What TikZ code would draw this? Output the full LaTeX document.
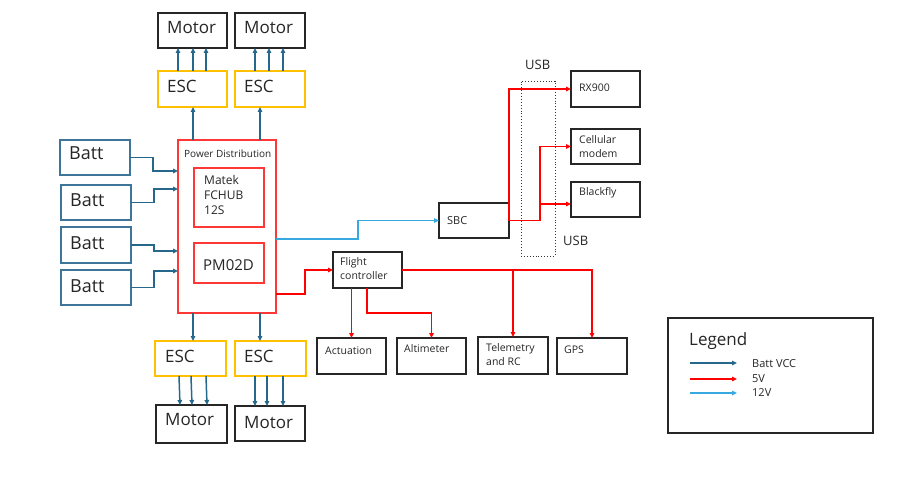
\documentclass[tikz,border=0pt]{standalone}
\usepackage{fontspec}
\setmainfont{Open Sans}
\usetikzlibrary{arrows.meta,calc}
\definecolor{bvcc}{RGB}{38,104,140}
\definecolor{battc}{RGB}{62,117,153}
\definecolor{redc}{RGB}{255,0,0}
\definecolor{redbox}{RGB}{255,55,55}
\definecolor{escc}{RGB}{255,192,0}
\definecolor{twelve}{RGB}{54,169,225}
\definecolor{txtc}{RGB}{38,38,38}
\newcommand\mybox[6]{\node[#1,anchor=north west,minimum width={#4-#2},minimum height={#5-#3}] (#6) at (#2,#3) {};}
\newcommand\fs[1]{\fontsize{#1}{#1}\selectfont}
\tikzset{
  blk/.style={draw=black!85,line width=1.5pt,inner sep=0pt,outer sep=0pt},
  battbox/.style={draw=battc,line width=1.4pt,inner sep=0pt,outer sep=0pt},
  escbox/.style={draw=escc,line width=1.4pt,inner sep=0pt,outer sep=0pt},
  redbx/.style={draw=redbox,line width=1.4pt,inner sep=0pt,outer sep=0pt},
  usbbox/.style={draw=black!80,dotted,line width=0.9pt,inner sep=0pt,outer sep=0pt},
  txt/.style={anchor=base west,inner sep=0pt,text=txtc},
  tip/.style={-{Triangle[length=5pt,width=4.5pt]}},
  bv/.style={tip,draw=bvcc,line width=1.5pt},
  rv/.style={tip,draw=redc,line width=1.5pt},
  tv/.style={tip,draw=twelve,line width=1.5pt},
}
\begin{document}
\begin{tikzpicture}[x=1pt,y=-1pt]
\useasboundingbox[fill=white] (0,0) rectangle (919,492);
% top motors / ESCs
\mybox{blk}{158}{13}{227}{48}{m1}
\mybox{blk}{235}{13}{305}{48}{m2}
\mybox{escbox}{158}{71}{227}{107}{e1}
\mybox{escbox}{235}{71}{305}{107}{e2}
\node[txt,font=\fs{17}] (tm1) at (167,34) {Motor};
\node[txt,font=\fs{17}] (tm2) at (244,34) {Motor};
\node[txt,font=\fs{17}] (te1) at (167,93) {ESC};
\node[txt,font=\fs{17}] (te2) at (244,93) {ESC};
% power distribution
\mybox{redbx}{178}{140}{276}{313}{pd}
\mybox{redbx}{194}{168}{264}{227}{mk}
\mybox{redbx}{194}{243}{264}{283}{pm}
\node[txt,font=\fs{10}] (tpd) at (184,158) {Power Distribution};
\node[txt,font=\fontsize{12}{15}\selectfont,align=left,anchor=north west] (tmk) at (204,175) {Matek\\FCHUB\\12S};
\node[txt,font=\fs{15}] (tpm) at (203,270) {PM02D};
% batteries
\mybox{battbox}{60}{140}{130}{175}{b1}
\mybox{battbox}{61}{185}{131}{220}{b2}
\mybox{battbox}{61}{227}{131}{263}{b3}
\mybox{battbox}{61}{270}{131}{305}{b4}
\node[txt,font=\fs{18}] (tb1) at (69,160) {Batt};
\node[txt,font=\fs{18}] (tb2) at (70,207) {Batt};
\node[txt,font=\fs{18}] (tb3) at (70,249) {Batt};
\node[txt,font=\fs{18}] (tb4) at (70,292) {Batt};
% bottom ESCs / motors
\mybox{escbox}{155}{341}{226}{376}{e3}
\mybox{escbox}{235}{341}{306}{376}{e4}
\mybox{blk}{156}{405}{227}{443}{m3}
\mybox{blk}{235}{406}{305}{441}{m4}
\node[txt,font=\fs{17}] (te3) at (165,362) {ESC};
\node[txt,font=\fs{17}] (te4) at (244,362) {ESC};
\node[txt,font=\fs{17}] (tm3) at (165,425) {Motor};
\node[txt,font=\fs{17}] (tm4) at (244,428) {Motor};
% flight controller and peripherals
\mybox{blk}{333}{252}{402}{288}{fc}
\node[txt,font=\fontsize{10.5}{14}\selectfont,align=left,anchor=north west] (tfc) at (340,257) {Flight\\controller};
\mybox{blk}{317}{338}{386}{374}{act}
\mybox{blk}{397}{338}{466}{374}{alt}
\mybox{blk}{478}{337}{548}{374}{tel}
\mybox{blk}{557}{338}{627}{374}{gps}
\node[txt,font=\fs{10.5}] (tact) at (325,354) {Actuation};
\node[txt,font=\fs{10.5}] (talt) at (404,352) {Altimeter};
\node[txt,font=\fontsize{10.5}{14}\selectfont,align=left,anchor=north west] (ttel) at (486,343) {Telemetry\\and RC};
\node[txt,font=\fs{10.5}] (tgps) at (564,353) {GPS};
% SBC and USB devices
\mybox{blk}{439}{203}{509}{238}{sbc}
\node[txt,font=\fs{11}] (tsbc) at (447,224) {SBC};
\mybox{blk}{571}{71}{640}{107}{rx}
\mybox{blk}{571}{129}{640}{164}{cell}
\mybox{blk}{571}{182}{640}{217}{bf}
\node[txt,font=\fs{10.5}] (trx) at (579,92) {RX900};
\node[txt,font=\fontsize{10.5}{14}\selectfont,align=left,anchor=north west] (tcell) at (579,135) {Cellular\\modem};
\node[txt,font=\fs{10.5}] (tbf) at (579,196) {Blackfly};
\mybox{usbbox}{521}{81}{555}{256}{usb}
\node[txt,font=\fs{13}] (tusb1) at (525,70) {USB};
\node[txt,font=\fs{13}] (tusb2) at (563,245) {USB};
% legend
\mybox{blk}{668}{318}{873}{433}{leg}
\node[txt,font=\fs{17}] (tleg) at (689,345) {Legend};
\node[txt,font=\fs{11}] (tl1) at (752,367) {Batt VCC};
\node[txt,font=\fs{11}] (tl2) at (752,382) {5V};
\node[txt,font=\fs{11}] (tl3) at (752,396) {12V};
\coordinate (l1a) at (690,363); \coordinate (l1b) at (737,363);
\coordinate (l2a) at (690,379); \coordinate (l2b) at (737,379);
\coordinate (l3a) at (690,393); \coordinate (l3b) at (737,393);
\draw[bv] (l1a) -- (l1b);
\draw[rv] (l2a) -- (l2b);
\draw[tv] (l3a) -- (l3b);
% ---- connectors ----
% ESC -> motors (top)
\foreach \dx in {20,35,48} {\draw[bv] ([xshift=\dx]e1.north west) -- ([xshift=\dx]m1.south west);}
\foreach \dx in {20,34,48} {\draw[bv] ([xshift=\dx]e2.north west) -- ([xshift=\dx]m2.south west);}
% ESC -> motors (bottom)
\foreach \dx in {24,36,51} {\draw[bv] ([xshift=\dx]e3.south west) -- ([xshift=\dx]m3.north west);}
\foreach \dx in {20,32,48} {\draw[bv] ([xshift=\dx]e4.south west) -- ([xshift=\dx]m4.north west);}
% PD -> ESCs
\draw[bv] ([xshift=15]pd.north west) -- ([xshift=35]e1.south west);
\draw[bv] ([xshift=82]pd.north west) -- ([xshift=25]e2.south west);
\draw[bv] ([xshift=15]pd.south west) -- ([xshift=38]e3.north west);
\draw[bv] ([xshift=82]pd.south west) -- ([xshift=25]e4.north west);
% batteries -> PD
\draw[bv] (b1.east) -- ++(23,0) |- ([yshift=-31]pd.north west);
\draw[bv] (b2.east) -- ++(23,0) |- ([yshift=-49]pd.north west);
\draw[bv] (b3.east) -- ++(23,0) |- ([yshift=-111]pd.north west);
\draw[bv] (b4.east) -- ++(23,0) |- ([yshift=-131]pd.north west);
% PD -> SBC (12V)
\draw[tv] ([yshift=-99]pd.north east) -- ++(82,0) |- (sbc.west);
% PD -> FC (5V)
\draw[rv] ([yshift=19]pd.south east) -- ++(29,0) |- (fc.west);
% SBC -> USB devices
\draw[rv] (sbc.east) |- (rx.west);
\draw[rv] (sbc.east) -- ++(31,0) |- (cell.west);
\draw[rv] (sbc.east) -- ++(31,0) |- ([yshift=-22]bf.north west);
% FC -> peripherals
\draw[rv] (act.north |- fc.south) -- (act.north);
\draw[rv] ([xshift=34]fc.south west) -- ++(0,25) -| (alt.north);
\draw[rv] (fc.east) -| (tel.north);
\draw[rv] (fc.east) -| (gps.north);
\end{tikzpicture}
\end{document}
